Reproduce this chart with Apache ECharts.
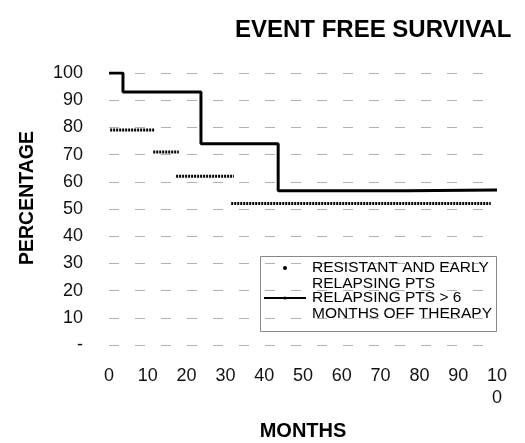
<!DOCTYPE html>
<html>
<head>
<meta charset="utf-8">
<script src="https://cdn.jsdelivr.net/npm/echarts@6/dist/echarts.min.js"></script>
<style>html,body{margin:0;padding:0;background:#fff}#c{width:525px;height:443px}</style>
</head>
<body>
<div id="c"></div>
<script>
// ---- data ----
const titleText = 'EVENT FREE SURVIVAL';
const yAxisName = 'PERCENTAGE';
const xAxisName = 'MONTHS';
const seriesNames = ['RESISTANT AND EARLY\nRELAPSING PTS', 'RELAPSING PTS > 6\nMONTHS OFF THERAPY'];

// Series 1 (dotted): horizontal segments
const earlyStart = [0.3, 11.4, 17.3, 31.5];
const earlyEnd   = [11.9, 18.0, 32.2, 98.4];
const earlyValue = [79, 71, 62, 52];

// Series 2 (solid step line)
const lateMonths = [0, 3.6, 23.7, 43.6, 76.8, 100];
const lateValue  = [100, 93, 74, 56.7, 57, 57];

const xTicks = [0, 10, 20, 30, 40, 50, 60, 70, 80, 90, 100];
const yTicks = [0, 10, 20, 30, 40, 50, 60, 70, 80, 90, 100];

// ---- build series data ----
const earlyData = [];
earlyStart.forEach((s, i) => {
  earlyData.push([s, earlyValue[i]]);
  earlyData.push([earlyEnd[i], earlyValue[i]]);
  if (i < earlyStart.length - 1) earlyData.push([earlyEnd[i], null]);
});
const lateData = lateMonths.map((m, i) => [m, lateValue[i]]);

const chart = echarts.init(document.getElementById('c'), null, {renderer: 'canvas'});
const font = 'Liberation Sans, Arial, Helvetica, sans-serif';
chart.setOption({
  animation: false,
  backgroundColor: '#fff',
  title: {
    text: titleText,
    left: 230, top: 12,
    textStyle: {fontFamily: font, fontSize: 24, fontWeight: 'bold', color: '#000', lineHeight: 26}
  },
  grid: {left: 109, right: 28, top: 73, bottom: 98, containLabel: false, outerBoundsMode: 'none'},
  legend: {
    data: [{name: seriesNames[0], icon: 'circle'}, {name: seriesNames[1]}],
    orient: 'vertical',
    left: 263, top: 244,
    padding: 0,
    itemGap: -18,
    itemWidth: 42,
    itemHeight: 4,
    selectedMode: false,
    formatter: name => '\n' + name,
    textStyle: {fontFamily: font, fontSize: 15.5, color: '#000', lineHeight: 16, padding: [0, 0, 0, 1]}
  },
  graphic: [{
    type: 'rect',
    shape: {x: 260.5, y: 256.5, width: 236, height: 75},
    style: {fill: 'none', stroke: '#888', lineWidth: 1},
    silent: true
  }],
  xAxis: {
    type: 'value',
    min: 0, max: 100, interval: 10,
    name: xAxisName,
    nameLocation: 'middle',
    nameGap: 75,
    nameTextStyle: {fontFamily: font, fontSize: 20, fontWeight: 'bold', color: '#000', lineHeight: 22},
    axisLine: {show: false},
    axisTick: {show: false},
    splitLine: {show: false},
    axisLabel: {
      margin: 20,
      fontFamily: font, fontSize: 18, color: '#111', lineHeight: 22,
      formatter: v => (v === 100 ? '10\n0' : String(v))
    }
  },
  yAxis: {
    type: 'value',
    min: 0, max: 100, interval: 10,
    name: yAxisName,
    nameLocation: 'middle',
    nameGap: 71,
    nameTextStyle: {fontFamily: font, fontSize: 19.5, fontWeight: 'bold', color: '#000', lineHeight: 20, padding: [0, 0, 0, 22]},
    axisLine: {show: false},
    axisTick: {show: false},
    splitLine: {show: true, lineStyle: {color: '#b0b0b0', width: 1, type: [10, 16]}},
    axisLabel: {
      margin: 26,
      fontFamily: font, fontSize: 18, color: '#111',
      formatter: v => (v === 0 ? '-' : String(v))
    }
  },
  series: [
    {
      name: seriesNames[0],
      type: 'line',
      data: earlyData,
      symbol: 'none',
      connectNulls: false,
      color: '#000',
      lineStyle: {color: '#000', width: 3, type: [2, 1], cap: 'butt'},
      z: 2
    },
    {
      name: seriesNames[1],
      type: 'line',
      step: 'end',
      data: lateData,
      symbol: 'none',
      color: '#000',
      lineStyle: {color: '#000', width: 3},
      z: 3
    }
  ]
});
</script>
</body>
</html>
